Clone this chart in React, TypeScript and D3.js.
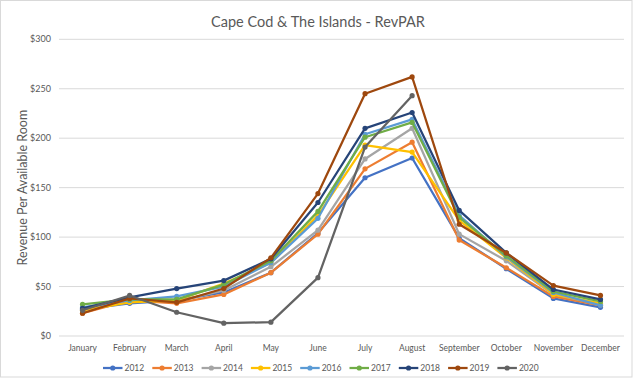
import React from "react";
import * as d3 from "d3";

const months = ["January","February","March","April","May","June","July","August","September","October","November","December"];
const years = ["2012","2013","2014","2015","2016","2017","2018","2019","2020"];
const colors = ["#4472C4","#ED7D31","#A5A5A5","#FFC000","#5B9BD5","#70AD47","#264478","#9E480E","#636363"];
const s2012 = [27, 33, 36, 44, 64, 104, 160, 180, 99, 68, 38, 29];
const s2013 = [23, 36, 33, 42, 64, 103, 169, 196, 97, 69, 40, 31];
const s2014 = [27, 37, 35, 46, 70, 107, 179, 210, 103, 76, 42, 32];
const s2015 = [26, 34, 36, 53, 74, 122, 193, 186, 117, 79, 42, 33];
const s2016 = [29, 36, 40, 50, 74, 119, 204, 219, 122, 80, 44, 31];
const s2017 = [32, 37, 37, 52, 76, 126, 201, 216, 120, 81, 45, 35];
const s2018 = [28, 39, 48, 56, 78, 135, 210, 226, 127, 84, 47, 37];
const s2019 = [23, 38, 34, 48, 79, 144, 245, 262, 113, 84, 51, 41];
const s2020: (number | null)[] = [26, 41, 24, 13, 14, 59, 191, 243, null, null, null, null];
const series = [s2012, s2013, s2014, s2015, s2016, s2017, s2018, s2019, s2020];
const yTicks = [0, 50, 100, 150, 200, 250, 300];

const W = 636, H = 382;
const FONT = "Lato, 'Liberation Sans', sans-serif";
const TXT = "#595959";

export default function App() {
  const x = d3.scaleBand().domain(months).range([59, 624]);
  const y = d3.scaleLinear().domain([0, 300]).range([336, 39.3]);
  const cx = (m: string) => (x(m) as number) + x.bandwidth() / 2;
  const line = d3.line<number | null>()
    .defined((d) => d != null)
    .x((_, i) => cx(months[i]))
    .y((d) => y(d as number));
  const legX = d3.scaleLinear().domain([0, 1]).range([103, 152.3]);

  return (
    <div style={{ position: "fixed", left: 0, top: 0 }}>
      <svg width={W} height={H} style={{ display: "block", fontFamily: FONT }}>
        <rect x={0} y={0} width={W} height={H} fill="#fff" />
        <rect x={0.5} y={0.5} width={631.5} height={376.5} fill="#fff" stroke="#d9d9d9" strokeWidth={1} />
        <text x={318} y={27} textAnchor="middle" fontSize={14.5} fill={TXT}>Cape Cod &amp; The Islands - RevPAR</text>
        {yTicks.map((t) => (
          <g key={t}>
            <line x1={59} x2={624} y1={y(t)} y2={y(t)} stroke="#d9d9d9" strokeWidth={1} />
            <text x={51} y={y(t)} dy="0.35em" textAnchor="end" fontSize={9} fill={TXT}>{d3.format("$,")(t)}</text>
          </g>
        ))}
        <text transform={`translate(27,${(y(0) + y(300)) / 2}) rotate(-90)`} textAnchor="middle" fontSize={12.5} fill={TXT}>Revenue Per Available Room</text>
        {months.map((m) => (
          <text key={m} x={cx(m)} y={351} textAnchor="middle" fontSize={8.5} fill={TXT}>{m}</text>
        ))}
        {series.map((s, k) => (
          <g key={years[k]}>
            <path d={line(s) || ""} fill="none" stroke={colors[k]} strokeWidth={2.25} strokeLinejoin="round" />
            {s.map((v, i) => v == null ? null : (
              <circle key={i} cx={cx(months[i])} cy={y(v)} r={2.6} fill={colors[k]} />
            ))}
          </g>
        ))}
        {years.map((yr, k) => {
          const lx = legX(k);
          return (
            <g key={yr}>
              <line x1={lx} x2={lx + 19.5} y1={368} y2={368} stroke={colors[k]} strokeWidth={2.25} />
              <circle cx={lx + 9.75} cy={368} r={2.6} fill={colors[k]} />
              <text x={lx + 21.5} y={368} dy="0.35em" fontSize={8.5} fill={TXT}>{yr}</text>
            </g>
          );
        })}
      </svg>
    </div>
  );
}
